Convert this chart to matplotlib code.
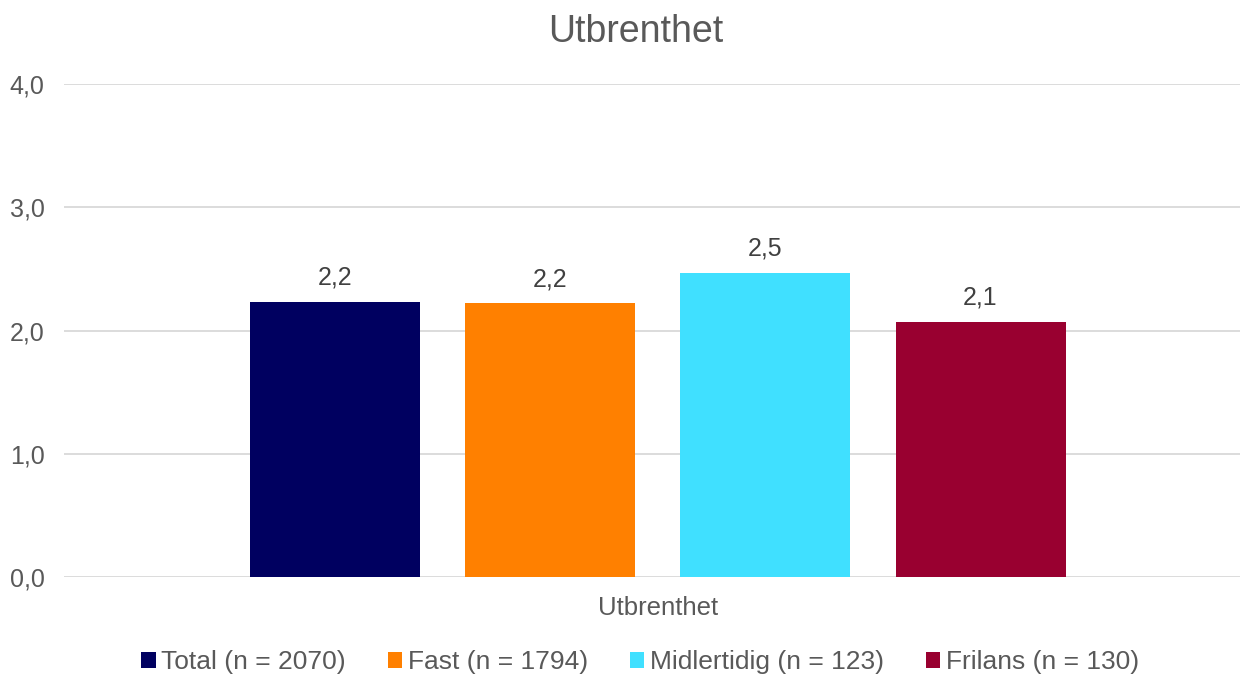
import matplotlib
matplotlib.use("Agg")
import matplotlib.pyplot as plt
from matplotlib.patches import Patch

plt.rcParams["font.family"] = ["Liberation Sans", "DejaVu Sans"]

category = "Utbrenthet"
groups = ["Total (n = 2070)", "Fast (n = 1794)", "Midlertidig (n = 123)", "Frilans (n = 130)"]
values = [2.23, 2.22, 2.47, 2.07]
colors = ["#000060", "#FF8000", "#40E0FF", "#990030"]
yticks = [0.0, 1.0, 2.0, 3.0, 4.0]

TEXT = "#595959"
GRID = "#D9D9D9"

fig = plt.figure(figsize=(12.41, 6.77), dpi=100)
ax = fig.add_axes([64 / 1241, 1 - 577 / 677, 1176 / 1241, (577 - 84) / 677])

width = 170 / 1176
step = 215 / 1176
for i, (val, col) in enumerate(zip(values, colors)):
    x = (i - 1.5) * step
    ax.bar(x, val, width=width, color=col, zorder=3)
    ax.text(x, val + 0.1, f"{val:.1f}".replace(".", ","), ha="center", va="bottom",
            fontsize=18, color="#404040")

ax.set_xlim(-594 / 1176, 582 / 1176)
ax.set_ylim(0, 4)
ax.set_yticks(yticks)
ax.set_yticklabels([f"{t:.1f}".replace(".", ",") for t in yticks], fontsize=18, color=TEXT)
ax.set_xticks([0])
ax.set_xticklabels([category], fontsize=18.5, color=TEXT)
ax.tick_params(length=0, pad=14)
ax.tick_params(axis="y", pad=14)
ax.grid(axis="y", color=GRID, lw=1.3, zorder=0)
for s in ax.spines.values():
    s.set_visible(False)

fig.text(636 / 1241, 1 - 32 / 677, category, ha="center", va="center", fontsize=27, color=TEXT)

handles = [Patch(facecolor=c, label=g) for g, c in zip(groups, colors)]
fig.legend(handles=handles, loc="center", bbox_to_anchor=(640 / 1241, 1 - 662 / 677), ncol=4,
           frameon=False, fontsize=19, labelcolor=TEXT, handlelength=0.55, handleheight=0.55,
           handletextpad=0.2, columnspacing=1.6)

fig.savefig("out.png", dpi=100)
